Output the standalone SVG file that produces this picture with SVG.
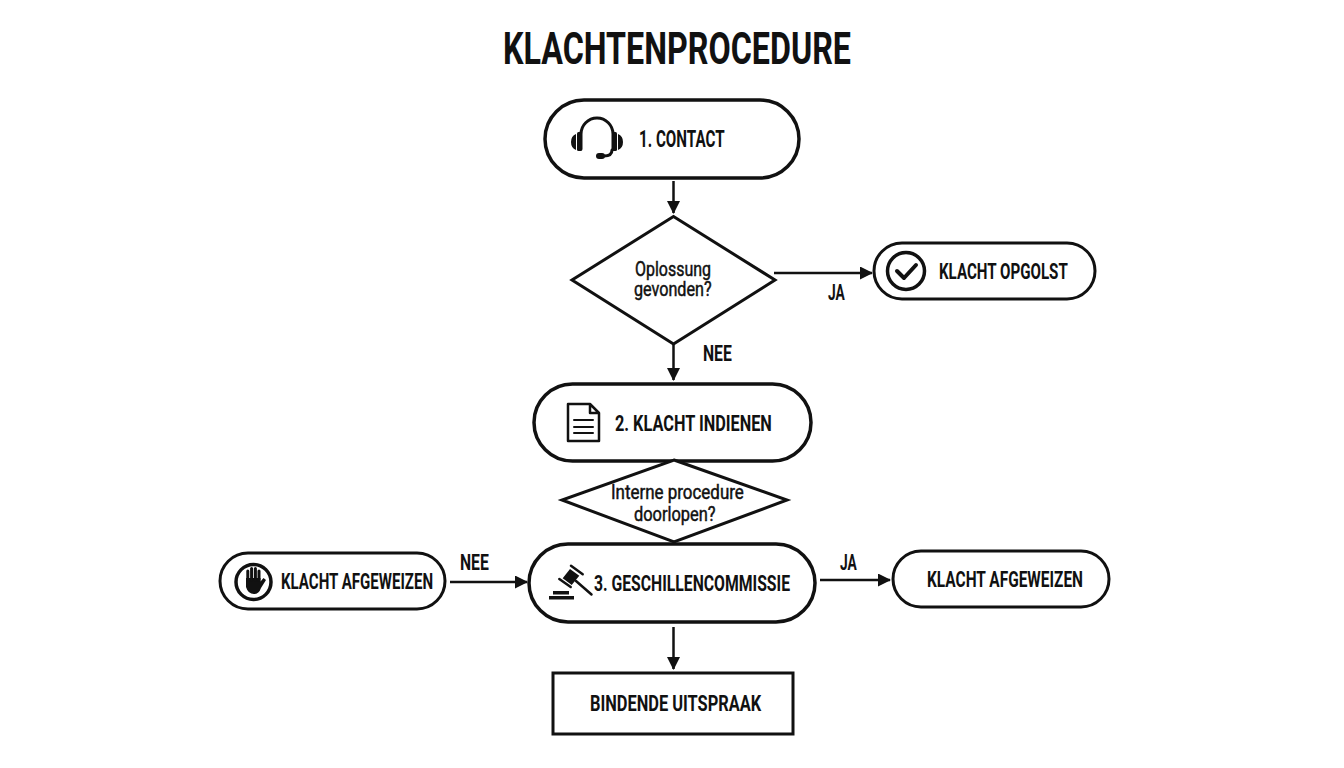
<svg xmlns="http://www.w3.org/2000/svg" width="1344" height="768" viewBox="0 0 1344 768">
<style>
text{font-family:"Roboto","Liberation Sans",sans-serif;font-weight:700;fill:#111;}
.b{fill:#fff;stroke:#111;stroke-width:3.5;}
.s{fill:#fff;stroke:#111;stroke-width:3;}
.d{fill:#fff;stroke:#111;stroke-width:3;stroke-linejoin:miter;}
.c{fill:none;stroke:#111;stroke-width:2.5;}
.i{fill:none;stroke:#111;stroke-width:3;stroke-linecap:round;stroke-linejoin:round;}
.f{fill:#111;stroke:none;}
.l{font-size:22px;}
.q{font-size:21px;font-weight:400;stroke:#111;stroke-width:.5px;}
</style>
<defs><marker id="a" markerUnits="userSpaceOnUse" markerWidth="14" markerHeight="14" refX="12" refY="6.500" orient="auto"><path d="M0 0L13 6.500L0 13Z" fill="#111"/></marker></defs>
<rect width="1344" height="768" fill="#fff"/>
<text id="title" transform="translate(503 64) scale(.8 1)" font-size="44" textLength="435" lengthAdjust="spacingAndGlyphs">KLACHTENPROCEDURE</text>
<g id="connectors">
<path class="c" d="M673.500 181V213" marker-end="url(#a)"/>
<path class="c" d="M774 273H872" marker-end="url(#a)"/>
<path class="c" d="M673.500 344V380" marker-end="url(#a)"/>
<path class="c" d="M450 582H527" marker-end="url(#a)"/>
<path class="c" d="M820 580H890" marker-end="url(#a)"/>
<path class="c" d="M673.500 627V669" marker-end="url(#a)"/>
<text class="l" transform="translate(828 300) scale(.8 1)" textLength="21" lengthAdjust="spacingAndGlyphs">JA</text>
<text class="l" transform="translate(703 361) scale(.8 1)" textLength="36" lengthAdjust="spacingAndGlyphs">NEE</text>
<text class="l" transform="translate(460 570) scale(.8 1)" textLength="36" lengthAdjust="spacingAndGlyphs">NEE</text>
<text class="l" transform="translate(840 570) scale(.8 1)" textLength="21" lengthAdjust="spacingAndGlyphs">JA</text>
</g>
<g id="n1">
<rect class="b" x="545" y="100" width="254" height="78" rx="39"/>
<path class="i" d="M581 149V134A16 16 0 0 1 613 134V149"/>
<rect class="f" x="577" y="132" width="5" height="19" rx="1.500"/><rect class="f" x="612" y="132" width="5" height="19" rx="1.500"/>
<path class="f" d="M576 134V150Q571 148 571 142Q571 136 576 134ZM618 134V150Q623 148 623 142Q623 136 618 134Z"/>
<path class="i" d="M612 150Q612 156 604 156" stroke-width="2"/><rect class="f" x="596" y="153" width="9" height="6" rx="3"/>
<text class="l" transform="translate(639 147) scale(.8 1)" font-size="23" style="font-size:23px" textLength="107" lengthAdjust="spacingAndGlyphs">1. CONTACT</text>
</g>
<g id="d1">
<path class="d" d="M673.500 216.500L775 280L673.500 344L572 280Z"/>
<text class="q" transform="translate(635 276) scale(.8 1)" textLength="95" lengthAdjust="spacingAndGlyphs">Oplossung</text>
<text class="q" transform="translate(634 296) scale(.8 1)" textLength="97" lengthAdjust="spacingAndGlyphs">gevonden?</text>
</g>
<g id="n-opgelost">
<rect class="s" x="874" y="243" width="221" height="56" rx="28"/>
<circle cx="906" cy="271" r="18.500" fill="none" stroke="#111" stroke-width="3.500"/>
<path class="i" d="M897 271L904 278L916 265" style="stroke-width:4"/>
<text class="l" transform="translate(939 279) scale(.8 1)" textLength="161" lengthAdjust="spacingAndGlyphs">KLACHT OPGOLST</text>
</g>
<g id="n2">
<rect class="b" x="534" y="384" width="277" height="77" rx="38.500"/>
<path class="i" d="M568 404H590L599 413V441H568Z M590 404V413H599" style="stroke-width:2.500"/>
<path class="i" d="M574 420H593M574 427H593M574 433H593" style="stroke-width:2"/>
<text class="l" transform="translate(615 431) scale(.8 1)" textLength="196" lengthAdjust="spacingAndGlyphs">2. KLACHT INDIENEN</text>
</g>
<g id="d2">
<path class="d" d="M674 460L787 500L674 542L562 500Z"/>
<text class="q" transform="translate(611 499) scale(.8 1)" textLength="166" lengthAdjust="spacingAndGlyphs">Interne procedure</text>
<text class="q" transform="translate(634 520.500) scale(.8 1)" textLength="102" lengthAdjust="spacingAndGlyphs">doorlopen?</text>
</g>
<g id="n3">
<rect class="b" x="529" y="544" width="286" height="78" rx="39"/>
<path class="f" d="M570 569L579.300 575.700L571.700 585L562.700 578.300Z"/>
<path d="M571 565.700L582.700 574.300M559.300 579L570.700 587" fill="none" stroke="#111" stroke-width="2.500" stroke-linecap="round"/>
<path class="i" d="M576 581L591.500 594.500" style="stroke-width:2.500"/>
<rect class="f" x="553" y="591" width="16" height="3.500"/><rect class="f" x="549" y="596" width="25" height="3.500"/>
<text class="l" transform="translate(594 591) scale(.8 1)" textLength="245" lengthAdjust="spacingAndGlyphs">3. GESCHILLENCOMMISSIE</text>
</g>
<g id="n-afgewezen-links">
<rect class="s" x="220" y="553" width="225" height="56" rx="28"/>
<circle cx="253.500" cy="582" r="17.500" fill="none" stroke="#111" stroke-width="3.500"/>
<path class="f" d="M246 578V587Q248 594 254 594Q259 594 261 588L266 580L263.500 578L260.500 581.500V578Z"/>
<path d="M247.800 580V571M251.600 580V568.500M255.400 580V568.500M259 580V571" fill="none" stroke="#111" stroke-width="3" stroke-linecap="round"/>
<text class="l" transform="translate(281 589) scale(.8 1)" textLength="190" lengthAdjust="spacingAndGlyphs">KLACHT AFGEWEIZEN</text>
</g>
<g id="n-afgewezen-rechts">
<rect class="s" x="893" y="551" width="216" height="56" rx="28"/>
<text class="l" transform="translate(927 587) scale(.8 1)" textLength="195" lengthAdjust="spacingAndGlyphs">KLACHT AFGEWEIZEN</text>
</g>
<g id="n4">
<rect x="553" y="673" width="240" height="61" fill="#fff" stroke="#111" stroke-width="3"/>
<text class="l" transform="translate(590 711) scale(.8 1)" textLength="214" lengthAdjust="spacingAndGlyphs">BINDENDE UITSPRAAK</text>
</g>
</svg>
